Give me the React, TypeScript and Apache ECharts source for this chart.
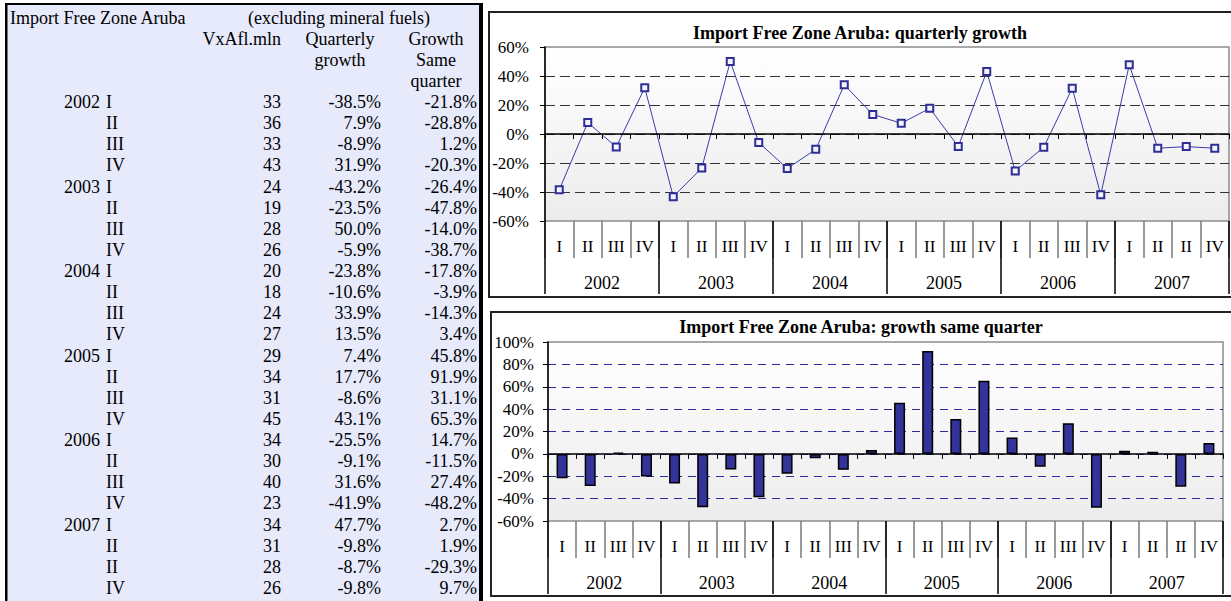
import React, { useEffect, useRef } from 'react';
import * as echarts from 'echarts';

const years = ['2002', '2003', '2004', '2005', '2006', '2007'];
const quarterLabels = [
  'I', 'II', 'III', 'IV',
  'I', 'II', 'III', 'IV',
  'I', 'II', 'III', 'IV',
  'I', 'II', 'III', 'IV',
  'I', 'II', 'III', 'IV',
  'I', 'II', 'II', 'IV',
];
const importValues = [33, 36, 33, 43, 24, 19, 28, 26, 20, 18, 24, 27, 29, 34, 31, 45, 34, 30, 40, 23, 34, 31, 28, 26];
const quarterlyGrowth = [
  -38.5, 7.9, -8.9, 31.9,
  -43.2, -23.5, 50.0, -5.9,
  -23.8, -10.6, 33.9, 13.5,
  7.4, 17.7, -8.6, 43.1,
  -25.5, -9.1, 31.6, -41.9,
  47.7, -9.8, -8.7, -9.8,
];
const sameQuarterGrowth = [
  -21.8, -28.8, 1.2, -20.3,
  -26.4, -47.8, -14.0, -38.7,
  -17.8, -3.9, -14.3, 3.4,
  45.8, 91.9, 31.1, 65.3,
  14.7, -11.5, 27.4, -48.2,
  2.7, 1.9, -29.3, 9.7,
];
const chart1Title = 'Import Free Zone Aruba: quarterly growth';
const chart2Title = 'Import Free Zone Aruba: growth same quarter';
const tableTitle = 'Import Free Zone Aruba';
const tableSubtitle = '(excluding mineral fuels)';

const FONT = '"Liberation Serif", "Times New Roman", serif';
const categories = quarterLabels.map((q, i) => years[Math.floor(i / 4)] + ' ' + q + ' #' + i);

function txt(text: string, x: number, y: number, align: string, opts: any = {}) {
  return {
    type: 'text',
    silent: true,
    z: 10,
    style: {
      text,
      x,
      y,
      fill: '#000',
      fontSize: opts.fontSize || 18,
      fontWeight: opts.fontWeight || 'normal',
      fontFamily: FONT,
      textAlign: align,
      align,
      textVerticalAlign: 'middle',
      verticalAlign: 'middle',
    },
  };
}

function buildTable() {
  const els: any[] = [];
  const rowY = (r: number) => 17.5 + r * 21.13;
  els.push({ type: 'rect', silent: true, z: 1, shape: { x: 6, y: 4, width: 474, height: 600 }, style: { fill: '#E6EAFB' } });
  els.push({ type: 'rect', silent: true, z: 2, shape: { x: 5, y: 3, width: 477, height: 2 }, style: { fill: '#000' } });
  els.push({ type: 'rect', silent: true, z: 2, shape: { x: 5, y: 3, width: 2.5, height: 600 }, style: { fill: '#000' } });
  els.push({ type: 'rect', silent: true, z: 2, shape: { x: 479, y: 3, width: 4, height: 600 }, style: { fill: '#000' } });

  els.push(txt(tableTitle, 10, rowY(0), 'left'));
  els.push(txt(tableSubtitle, 248, rowY(0), 'left'));
  els.push(txt('VxAfl.mln', 281, rowY(1), 'right'));
  els.push(txt('Quarterly', 340, rowY(1), 'center'));
  els.push(txt('growth', 340, rowY(2), 'center'));
  els.push(txt('Growth', 436, rowY(1), 'center'));
  els.push(txt('Same', 436, rowY(2), 'center'));
  els.push(txt('quarter', 436, rowY(3), 'center'));

  for (let i = 0; i < quarterLabels.length; i++) {
    const y = rowY(4 + i);
    if (i % 4 === 0) els.push(txt(years[i / 4], 100, y, 'right'));
    els.push(txt(quarterLabels[i], 106, y, 'left'));
    els.push(txt(String(importValues[i]), 281, y, 'right'));
    els.push(txt(quarterlyGrowth[i].toFixed(1) + '%', 381, y, 'right'));
    els.push(txt(sameQuarterGrowth[i].toFixed(1) + '%', 477, y, 'right'));
  }
  return els;
}

const plotBg = {
  type: 'linear', x: 0, y: 0, x2: 0, y2: 1,
  colorStops: [
    { offset: 0, color: '#ffffff' },
    { offset: 1, color: '#ececec' },
  ],
};

function makeXAxes(gridIndex: number) {
  return [
    {
      gridIndex,
      type: 'category',
      data: categories,
      position: 'bottom',
      boundaryGap: true,
      axisLine: { show: true, onZero: true, lineStyle: { color: '#000', width: 1.5 } },
      axisTick: { show: true, interval: 0, length: 5, lineStyle: { color: '#000', width: 1 } },
      axisLabel: { show: false },
      splitLine: { show: false },
      z: 5,
    },
    {
      gridIndex,
      type: 'category',
      data: categories,
      position: 'bottom',
      boundaryGap: true,
      axisLine: { show: false, onZero: false },
      axisTick: { show: true, interval: 0, length: 37, lineStyle: { color: '#7a7a7a', width: 1.5 } },
      axisLabel: {
        show: true,
        interval: 0,
        margin: 17,
        color: '#000',
        fontSize: 17,
        fontFamily: FONT,
        formatter: (_v: string, i: number) => quarterLabels[i],
      },
      splitLine: { show: false },
    },
    {
      gridIndex,
      type: 'category',
      data: years,
      position: 'bottom',
      boundaryGap: true,
      axisLine: { show: false, onZero: false },
      axisTick: { show: true, interval: 0, length: 73, lineStyle: { color: '#000', width: 1.5 } },
      axisLabel: { show: true, interval: 0, margin: 53, color: '#000', fontSize: 18, fontFamily: FONT },
      splitLine: { show: false },
      z: 6,
    },
  ];
}

function makeYAxis(gridIndex: number, min: number, max: number, margin: number, dash: number[], gridColor: string) {
  return {
    gridIndex,
    type: 'value',
    min,
    max,
    interval: 20,
    axisLine: { show: true, lineStyle: { color: '#000', width: 1.5 } },
    axisTick: { show: true, length: 5, lineStyle: { color: '#000', width: 1 } },
    axisLabel: { formatter: '{value}%', color: '#000', fontSize: 17, fontFamily: FONT, margin },
    splitLine: {
      show: true,
      showMinLine: false,
      showMaxLine: false,
      lineStyle: { color: gridColor, width: 1.2, type: dash },
    },
  };
}

export default function App() {
  const ref = useRef<HTMLDivElement>(null);
  useEffect(() => {
    if (!ref.current) return;
    const chart = echarts.init(ref.current, undefined, { renderer: 'svg' });
    const option: any = {
      animation: false,
      backgroundColor: '#fff',
      textStyle: { fontFamily: FONT },
      grid: [
        { left: 545, top: 47, width: 684, height: 174, show: true, backgroundColor: plotBg, borderColor: '#8c8c8c', borderWidth: 1.5 },
        { left: 548, top: 342, width: 675, height: 179, show: true, backgroundColor: plotBg, borderColor: '#8c8c8c', borderWidth: 1.5 },
      ],
      xAxis: [...makeXAxes(0), ...makeXAxes(1)],
      yAxis: [
        makeYAxis(0, -60, 60, 16, [10, 5], '#333'),
        makeYAxis(1, -60, 100, 14, [8, 6], '#2b2ba0'),
      ],
      series: [
        {
          type: 'line',
          xAxisIndex: 0,
          yAxisIndex: 0,
          data: quarterlyGrowth,
          symbol: 'rect',
          symbolSize: 7,
          color: '#333399',
          lineStyle: { color: '#3b3ba8', width: 1 },
          itemStyle: { color: '#f4f4ff', borderColor: '#2e2e96', borderWidth: 2 },
          z: 3,
        },
        {
          type: 'bar',
          xAxisIndex: 3,
          yAxisIndex: 1,
          data: sameQuarterGrowth,
          barWidth: 11,
          itemStyle: { color: '#333399', borderColor: '#000', borderWidth: 1.5 },
          z: 3,
        },
      ],
      graphic: [
        ...buildTable(),
        { type: 'rect', silent: true, z: 0, shape: { x: 489, y: 12, width: 760, height: 285 }, style: { fill: 'none', stroke: '#222', lineWidth: 2 } },
        { type: 'rect', silent: true, z: 0, shape: { x: 491, y: 312, width: 760, height: 284 }, style: { fill: 'none', stroke: '#222', lineWidth: 2 } },
        txt(chart1Title, 860, 33, 'center', { fontWeight: 'bold', fontSize: 18 }),
        txt(chart2Title, 861, 327, 'center', { fontWeight: 'bold', fontSize: 18 }),
      ],
    };
    chart.setOption(option);
    return () => chart.dispose();
  }, []);
  return (
    <div
      ref={ref}
      style={{ position: 'absolute', left: 0, top: 0, width: 1231, height: 601 }}
    />
  );
}
